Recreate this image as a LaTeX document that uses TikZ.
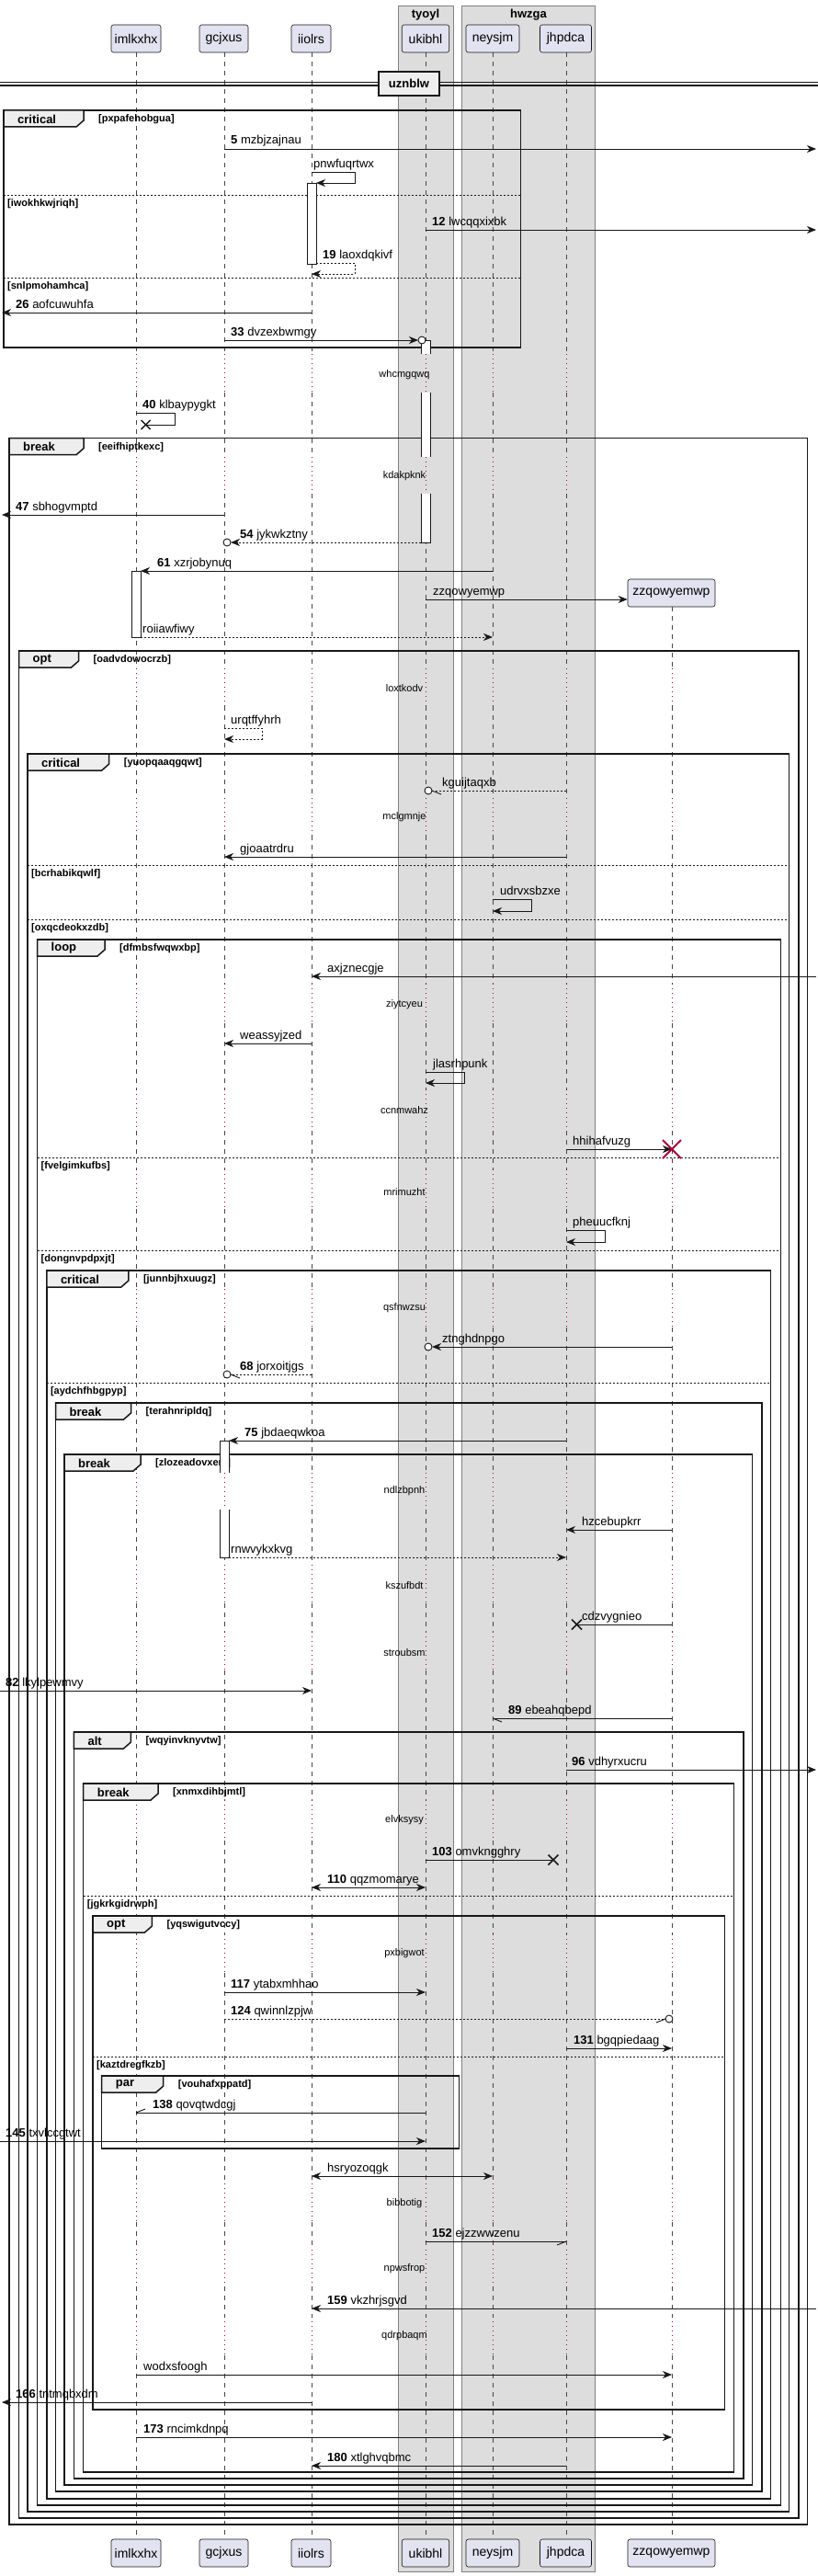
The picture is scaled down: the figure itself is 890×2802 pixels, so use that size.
\documentclass[tikz,border=0pt]{standalone}
\usepackage{fontspec}
\setmainfont{Liberation Sans}
\usetikzlibrary{arrows.meta}
\definecolor{partfill}{HTML}{E2E2F0}
\definecolor{boxgray}{HTML}{DDDDDD}
\definecolor{tabgray}{HTML}{EEEEEE}
\definecolor{dlycol}{HTML}{A80036}
\definecolor{ink}{HTML}{181818}
\newcommand\myfs[1]{\fontsize{#1}{#1}\selectfont}
\newcommand\msgline[5]{\coordinate (#1s) at (#2,#4); \coordinate (#1e) at (#3,#4); \draw[#5] (#1s) -- (#1e);}
\newcommand\msglabel[4]{\node[lbl] (#1) at (#2,#3) {#4};}
\newcommand\selfmsg[7]{\coordinate (#1a) at (#2,#4); \coordinate (#1b) at (#3,#4); \coordinate (#1c) at (#3,#5); \coordinate (#1d) at (#6,#5); \draw[#7] (#1a) -- (#1b) -- (#1c) -- (#1d);}
\newcommand\xmk[3]{\draw[#3] (#1) ++(-#2,-#2) -- ++(2*#2,2*#2) (#1) ++(-#2,#2) -- ++(2*#2,-2*#2);}
\newcommand\grp[8]{%
 \draw[frame] (#2,#3) rectangle (#4,#5);
 \draw[tabshape] (#2,#3) -- (#2+#6,#3) -- (#2+#6,#3+11) -- (#2+#6-8,#3+18) -- (#2,#3+18) -- cycle;
 \node[tabtxt] (#1k) at (#2+15,#3+9.5) {#7};
 \node[condtxt] (#1c) at (#2+#6+16,#3+9.5) {[#8]};}
\newcommand\gsep[5]{\draw[sepst] (#2,#4) -- (#3,#4); \node[condtxt] (#1) at (#2+4,#4+9.5) {[#5]};}
\begin{document}
\begin{tikzpicture}[x=1pt,y=-1pt,
 part/.style={draw=ink, fill=partfill, rounded corners=2.5pt, line width=0.6pt, font=\myfs{14}, minimum height=30pt, inner xsep=2pt, inner ysep=0pt},
 boxst/.style={draw=black!50, fill=boxgray, line width=0.6pt},
 boxttl/.style={font=\bfseries\myfs{13}, inner sep=0},
 life/.style={draw=ink!80, line width=0.5pt, dash pattern=on 5pt off 5pt},
 dly/.style={draw=dlycol, line width=0.8pt, dash pattern=on 1pt off 4pt},
 frame/.style={draw=ink, line width=1.5pt},
 tabshape/.style={draw=ink, line width=1.5pt, fill=tabgray},
 tabtxt/.style={anchor=west, font=\bfseries\myfs{13}, inner sep=0},
 condtxt/.style={anchor=west, font=\bfseries\myfs{11}, inner sep=0},
 sepst/.style={draw=ink, line width=1pt, dash pattern=on 2pt off 2pt},
 msg/.style={draw=ink, line width=0.9pt, -{Stealth[length=10pt,width=8pt,inset=3pt]}},
 dmsg/.style={msg, dash pattern=on 2pt off 2pt},
 bmsg/.style={draw=ink, line width=0.9pt, {Stealth[length=10pt,width=8pt,inset=3pt]}-{Stealth[length=10pt,width=8pt,inset=3pt]}},
 pl/.style={draw=ink, line width=0.9pt},
 dpl/.style={pl, dash pattern=on 2pt off 2pt},
 xst/.style={draw=ink, line width=1.5pt},
 rxst/.style={draw=dlycol, line width=2pt},
 lbl/.style={anchor=base west, font=\myfs{13}, inner sep=0},
 dtxt/.style={font=\myfs{11}, inner sep=0},
 circn/.style={circle, draw=ink, fill=white, line width=0.9pt, minimum size=8pt, inner sep=0},
 actl/.style={draw=ink, line width=0.8pt}]
\useasboundingbox (0,0) rectangle (890,2802);
\fill[white] (0,0) rectangle (890,2802);
% boxes
\draw[boxst] (433.6,6) rectangle (492.9,2797);
\node[boxttl] (bT) at (463,16) {tyoyl};
\draw[boxst] (502.6,6) rectangle (647.5,2797);
\node[boxttl] (bH) at (575,16) {hwzga};
% lifelines
\def\dlist{385/427,497/537,727/768,868/909,1070/1113,1185/1230,1272/1315,1402/1444,1602/1642,1702/1744,1775/1817,1958/2002,2104/2146,2375/2417,2447/2487,2520/2562}
\foreach \lx/\ly in {148/57,244/57,339/57,463/57,536/57,616/57,731/660}{
  \xdef\prevy{\ly}
  \foreach \da/\db in \dlist {
    \ifdim\da pt>\ly pt
      \draw[life] (\lx,\prevy) -- (\lx,\da);
      \draw[dly] (\lx,\da) -- (\lx,\db);
      \xdef\prevy{\db}
    \fi
  }
  \draw[life] (\lx,\prevy) -- (\lx,2762);
}
% participants
\node[part, minimum width=54pt] (pA) at (148,42) {imlkxhx};
\node[part, minimum width=53pt] (pG) at (243.5,42) {gcjxus};
\node[part, minimum width=43pt] (pI) at (338.5,42) {iiolrs};
\node[part, minimum width=51.5pt] (pU) at (463,42) {ukibhl};
\node[part, minimum width=58pt] (pN) at (536,42) {neysjm};
\node[part, minimum width=56pt] (pJ) at (615.5,42) {jhpdca};
\node[part, minimum width=95pt] (pZ) at (730.5,645) {zzqowyemwp};
\node[part, minimum width=54pt] (qA) at (148,2777) {imlkxhx};
\node[part, minimum width=53pt] (qG) at (243.5,2777) {gcjxus};
\node[part, minimum width=43pt] (qI) at (338.5,2777) {iiolrs};
\node[part, minimum width=51.5pt] (qU) at (463,2777) {ukibhl};
\node[part, minimum width=58pt] (qN) at (536,2777) {neysjm};
\node[part, minimum width=56pt] (qJ) at (615.5,2777) {jhpdca};
\node[part, minimum width=95pt] (qZ) at (730.5,2777) {zzqowyemwp};
% divider
\draw[ink, line width=1.2pt] (0,89.5) -- (890,89.5);
\draw[ink, line width=1.2pt] (0,93) -- (890,93);
\node[draw=ink, line width=1.8pt, fill=tabgray, minimum width=66pt, minimum height=26pt, font=\bfseries\myfs{13}, inner sep=0] (dv) at (445,91) {uznblw};
% groups
\grp{gA}{4}{120}{566.5}{378}{87}{critical}{pxpafehobgua}
\gsep{sA1}{4}{566.5}{212}{iwokhkwjriqh}
\gsep{sA2}{4}{566.5}{302}{snlpmohamhca}
\grp{gB}{10}{476.7}{878.5}{2746}{81}{break}{eeifhiptkexc}
\grp{gC}{20.5}{708}{869}{2739}{65}{opt}{oadvdowocrzb}
\grp{gD}{30}{820}{858.5}{2732}{88.7}{critical}{yuopqaaqgqwt}
\gsep{sD1}{30}{858.5}{941}{bcrhabikqwlf}
\gsep{sD2}{30}{858.5}{1000}{oxqcdeokxzdb}
\grp{gE}{40.5}{1022}{849.4}{2725}{73.5}{loop}{dfmbsfwqwxbp}
\gsep{sE1}{40.5}{849.4}{1259}{fvelgimkufbs}
\gsep{sE2}{40.5}{849.4}{1360}{dongnvpdpxjt}
\grp{gF}{50.8}{1382}{838.6}{2718}{89}{critical}{junnbjhxuugz}
\gsep{sF1}{50.8}{838.6}{1504}{aydchfhbgpyp}
\grp{gG}{60.5}{1526}{829}{2710}{82}{break}{terahnripldq}
\grp{gH}{70}{1582}{818.6}{2703}{83}{break}{zlozeadovxem}
\grp{gI}{80.4}{1884}{809}{2696}{62}{alt}{wqyinvknyvtw}
\grp{gJ}{90.7}{1940}{798.6}{2689}{81.3}{break}{xnmxdihbjmtl}
\gsep{sJ1}{90.7}{798.6}{2062}{jgkrkgidrwph}
\grp{gK}{101}{2084}{788.4}{2621}{64.4}{opt}{yqswigutvccy}
\gsep{sK1}{101}{788.4}{2237}{kaztdregfkzb}
\grp{gL}{110.7}{2258}{499.7}{2337}{67}{par}{vouhafxppatd}
% activations
\filldraw[actl, fill=white] (334,199) rectangle (344,287);
\filldraw[actl, fill=white] (143,621) rectangle (153,693);
\fill[white] (458,370) rectangle (468,385); \draw[actl] (458,385) -- (458,370) -- (468,370) -- (468,385);
\fill[white] (458,427) rectangle (468,497); \draw[actl] (458,427) -- (458,497) (468,427) -- (468,497);
\fill[white] (458,537) rectangle (468,590); \draw[actl] (458,537) -- (458,590) -- (468,590) -- (468,537);
\fill[white] (239,1567) rectangle (249,1602); \draw[actl] (239,1602) -- (239,1567) -- (249,1567) -- (249,1602);
\fill[white] (239,1642) rectangle (249,1694); \draw[actl] (239,1642) -- (239,1694) -- (249,1694) -- (249,1642);
% messages
\msgline{m5}{244}{888}{162}{msg}
\msglabel{l5}{251}{157}{\textbf{5} mzbjzajnau}
\selfmsg{m6}{339}{386}{187}{199}{344}{msg}
\msglabel{l6}{341}{182}{pnwfuqrtwx}
\msgline{m12}{463}{888}{250}{msg}
\msglabel{l12}{470}{245}{\textbf{12} lwcqqxixbk}
\selfmsg{m19}{344}{386}{286}{298}{339}{dmsg}
\msglabel{l19}{351}{281}{\textbf{19} laoxdqkivf}
\msgline{m26}{339}{2}{340}{msg}
\msglabel{l26}{17}{335}{\textbf{26} aofcuwuhfa}
\msgline{m33}{244}{455}{370}{msg}
\node[circn] (c33) at (459,370) {};
\msglabel{l33}{251}{365}{\textbf{33} dvzexbwmgy}
\selfmsg{m40}{148}{190}{449}{462}{158.6}{pl}
\xmk{m40d}{5}{xst}
\msglabel{l40}{155}{444}{\textbf{40} klbaypygkt}
\msgline{m47}{244}{2}{560}{msg}
\msglabel{l47}{17}{555}{\textbf{47} sbhogvmptd}
\msgline{m54}{458}{251}{590}{dmsg}
\node[circn] (c54) at (247,590) {};
\msglabel{l54}{261}{585}{\textbf{54} jykwkztny}
\msgline{m61}{536}{153}{621}{msg}
\msglabel{l61}{171}{616}{\textbf{61} xzrjobynuq}
\coordinate (m62s) at (463,652);
\draw[msg] (m62s) -- (pZ.west |- m62s);
\msglabel{l62}{471}{647}{zzqowyemwp}
\msgline{m63}{153}{536}{693}{dmsg}
\msglabel{l63}{155}{688}{roiiawfiwy}
\selfmsg{m64}{244}{285}{792}{804}{244}{dmsg}
\msglabel{l64}{251}{787}{urqtffyhrh}
\msgline{m65}{616}{470}{860}{dpl}
\draw[pl] (m65e) -- ++(10,4);
\node[circn] (c65) at (466,860) {};
\msglabel{l65}{481}{855}{kguijtaqxb}
\msgline{m66}{616}{244}{932}{msg}
\msglabel{l66}{261}{927}{gjoaatrdru}
\selfmsg{m67}{536}{578}{978}{991}{536}{msg}
\msglabel{l67}{544}{973}{udrvxsbzxe}
\msgline{m68a}{888}{339}{1062}{msg}
\msglabel{l68a}{356}{1057}{axjznecgje}
\msgline{m69}{339}{244}{1135}{msg}
\msglabel{l69}{261}{1130}{weassyjzed}
\selfmsg{m70}{463}{505}{1166}{1178}{463}{msg}
\msglabel{l70}{471}{1161}{jlasrhpunk}
\msgline{m71}{616}{731}{1250}{msg}
\xmk{m71e}{10}{rxst}
\msglabel{l71}{623}{1245}{hhihafvuzg}
\selfmsg{m72}{616}{658}{1338}{1351}{616}{msg}
\msglabel{l72}{623}{1333}{pheuucfknj}
\msgline{m73}{731}{470}{1465}{msg}
\node[circn] (c73) at (466,1465) {};
\msglabel{l73}{481}{1460}{ztnghdnpgo}
\msgline{m68}{339}{251}{1495}{dpl}
\draw[pl] (m68e) -- ++(10,4);
\node[circn] (c68) at (247,1495) {};
\msglabel{l68}{261}{1490}{\textbf{68} jorxoitjgs}
\msgline{m75}{616}{249}{1567}{msg}
\msglabel{l75}{266}{1562}{\textbf{75} jbdaeqwkoa}
\msgline{m76}{731}{616}{1664}{msg}
\msglabel{l76}{633}{1659}{hzcebupkrr}
\msgline{m77}{249}{616}{1694}{dmsg}
\msglabel{l77}{251}{1689}{rnwvykxkvg}
\msgline{m78}{731}{627.5}{1767}{pl}
\xmk{m78e}{5.5}{xst}
\msglabel{l78}{633}{1762}{cdzvygnieo}
\msgline{m82}{0}{339}{1839}{msg}
\msglabel{l82}{6}{1834}{\textbf{82} lkylpewmvy}
\msgline{m89}{731}{536}{1869}{pl}
\draw[pl] (m89e) -- ++(10,4);
\msglabel{l89}{553}{1864}{\textbf{89} ebeahqbepd}
\msgline{m96}{616}{888}{1925}{msg}
\msglabel{l96}{622}{1920}{\textbf{96} vdhyrxucru}
\msgline{m103}{463}{602}{2023}{pl}
\xmk{m103e}{5.5}{xst}
\msglabel{l103}{470}{2018}{\textbf{103} omvkngghry}
\msgline{m110}{339}{463}{2053}{bmsg}
\msglabel{l110}{356}{2048}{\textbf{110} qqzmomarye}
\msgline{m117}{244}{463}{2167}{msg}
\msglabel{l117}{251}{2162}{\textbf{117} ytabxmhhao}
\msgline{m124}{244}{724}{2196}{dpl}
\draw[pl] (m124e) -- ++(-10,4);
\node[circn] (c124) at (728,2196) {};
\msglabel{l124}{251}{2191}{\textbf{124} qwinnlzpjw}
\msgline{m131}{616}{731}{2228}{msg}
\msglabel{l131}{624}{2223}{\textbf{131} bgqpiedaag}
\msgline{m138}{463}{148}{2298}{pl}
\draw[pl] (m138e) -- ++(10,-4);
\msglabel{l138}{166}{2293}{\textbf{138} qovqtwdcgj}
\msgline{m145}{0}{463}{2329}{msg}
\msglabel{l145}{6}{2324}{\textbf{145} txvlccgtwt}
\msgline{m146}{339}{536}{2367}{bmsg}
\msglabel{l146}{356}{2362}{hsryozoqgk}
\msgline{m152}{463}{616}{2438}{pl}
\draw[pl] (m152e) -- ++(-10,4);
\msglabel{l152}{470}{2433}{\textbf{152} ejzzwwzenu}
\msgline{m159}{888}{339}{2511}{msg}
\msglabel{l159}{356}{2506}{\textbf{159} vkzhrjsgvd}
\msgline{m160}{148}{731}{2583}{msg}
\msglabel{l160}{156}{2578}{wodxsfoogh}
\msgline{m166}{339}{2}{2613}{msg}
\msglabel{l166}{17}{2608}{\textbf{166} tntmqbxdm}
\msgline{m173}{148}{731}{2651}{msg}
\msglabel{l173}{156}{2646}{\textbf{173} rncimkdnpq}
\msgline{m180}{616}{339}{2682}{msg}
\msglabel{l180}{356}{2677}{\textbf{180} xtlghvqbmc}
% delay texts
\node[dtxt] (d1) at (440,408) {whcmgqwq};
\node[dtxt] (d2) at (440,518) {kdakpknk};
\node[dtxt] (d3) at (440,749) {loxtkodv};
\node[dtxt] (d4) at (440,889) {mclgmnje};
\node[dtxt] (d5) at (440,1093) {ziytcyeu};
\node[dtxt] (d6) at (440,1208) {ccnmwahz};
\node[dtxt] (d7) at (440,1297) {mrimuzht};
\node[dtxt] (d8) at (440,1423) {qsfnwzsu};
\node[dtxt] (d9) at (440,1622) {ndlzbpnh};
\node[dtxt] (d10) at (440,1725) {kszufbdt};
\node[dtxt] (d11) at (440,1798) {stroubsm};
\node[dtxt] (d12) at (440,1980) {elvksysy};
\node[dtxt] (d13) at (440,2125) {pxbigwot};
\node[dtxt] (d14) at (440,2397) {bibbotig};
\node[dtxt] (d15) at (440,2468) {npwsfrop};
\node[dtxt] (d16) at (440,2541) {qdrpbaqm};
\end{tikzpicture}
\end{document}
